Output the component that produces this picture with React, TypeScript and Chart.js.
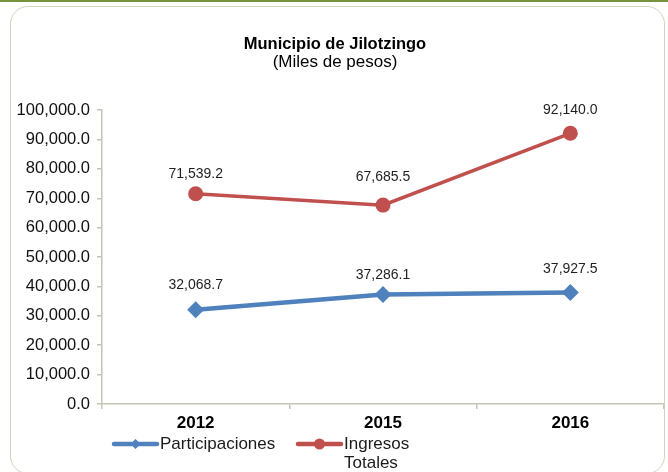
import React, { useEffect, useRef } from "react";
import { Chart, registerables } from "chart.js";

Chart.register(...registerables);

const categories = ["2012", "2015", "2016"];
const participaciones = [32068.7, 37286.1, 37927.5];
const ingresosTotales = [71539.2, 67685.5, 92140.0];
const seriesNames = ["Participaciones", "Ingresos Totales"];
const yMin = 0;
const yMax = 100000;
const yStep = 10000;
const titleText = "Municipio de Jilotzingo";
const subtitleText = "(Miles de pesos)";

const FONT = '"Liberation Sans", Arial, Helvetica, sans-serif';
const BLUE = "#4f81bd";
const RED = "#c0504d";
const AXIS = "#c4c5b4";

const fmt = (v: number) =>
  v.toLocaleString("en-US", { minimumFractionDigits: 1, maximumFractionDigits: 1 });

// label offsets above points (style only)
const labelOffsets = [
  [25, 19, 23],
  [20, 28, 23],
];

const dataLabelPlugin = {
  id: "dataLabels",
  afterDatasetsDraw(chart: any) {
    const ctx = chart.ctx;
    ctx.save();
    ctx.font = `14px ${FONT}`;
    ctx.fillStyle = "#1f1f1f";
    ctx.textAlign = "center";
    ctx.textBaseline = "middle";
    chart.data.datasets.forEach((ds: any, di: number) => {
      const meta = chart.getDatasetMeta(di);
      meta.data.forEach((pt: any, i: number) => {
        const off = labelOffsets[di]?.[i] ?? 22;
        ctx.fillText(fmt(ds.data[i]), pt.x, pt.y - off);
      });
    });
    ctx.restore();
  },
};

const legendPlugin = {
  id: "customLegend",
  afterDraw(chart: any) {
    const ctx = chart.ctx;
    const area = chart.chartArea;
    const y = area.bottom + 40;
    const starts = [area.left + 12, area.left + 196];
    ctx.save();
    chart.data.datasets.forEach((ds: any, di: number) => {
      const x0 = starts[di];
      const lineLen = 43;
      ctx.strokeStyle = ds.borderColor;
      ctx.lineWidth = 4.5;
      ctx.lineCap = "round";
      ctx.beginPath();
      ctx.moveTo(x0, y);
      ctx.lineTo(x0 + lineLen, y);
      ctx.stroke();
      ctx.fillStyle = ds.pointBackgroundColor;
      ctx.beginPath();
      if (ds.pointStyle === "circle") {
        ctx.arc(x0 + lineLen / 2, y, 5.5, 0, Math.PI * 2);
      } else {
        const r = 5;
        const cx = x0 + lineLen / 2;
        ctx.moveTo(cx, y - r);
        ctx.lineTo(cx + r, y);
        ctx.lineTo(cx, y + r);
        ctx.lineTo(cx - r, y);
        ctx.closePath();
      }
      ctx.fill();
      ctx.fillStyle = "#1a1a1a";
      ctx.font = `17px ${FONT}`;
      ctx.textAlign = "left";
      ctx.textBaseline = "middle";
      const words = String(ds.label).split(" ");
      const lines = words.length > 1 && di === 1 ? [words[0], words.slice(1).join(" ")] : [ds.label];
      lines.forEach((ln: string, li: number) => {
        ctx.fillText(ln, x0 + lineLen + 3, y + li * 19);
      });
    });
    ctx.restore();
  },
};

export default function App() {
  const ref = useRef<HTMLCanvasElement | null>(null);

  useEffect(() => {
    if (!ref.current) return;
    const chart = new Chart(ref.current, {
      type: "line",
      data: {
        labels: categories,
        datasets: [
          {
            label: seriesNames[0],
            data: participaciones,
            borderColor: BLUE,
            backgroundColor: BLUE,
            pointBackgroundColor: BLUE,
            pointBorderColor: BLUE,
            pointStyle: "rectRot",
            pointRadius: 8.5,
            pointBorderWidth: 0,
            borderWidth: 4.5,
            tension: 0,
          },
          {
            label: seriesNames[1],
            data: ingresosTotales,
            borderColor: RED,
            backgroundColor: RED,
            pointBackgroundColor: RED,
            pointBorderColor: RED,
            pointStyle: "circle",
            pointRadius: 7.5,
            pointBorderWidth: 0,
            borderWidth: 3.5,
            tension: 0,
          },
        ],
      },
      options: {
        responsive: false,
        animation: false,
        layout: { autoPadding: false, padding: { left: 6, right: 4, top: 0, bottom: 0 } },
        plugins: {
          legend: { display: false },
          tooltip: { enabled: false },
          title: {
            display: true,
            text: titleText,
            color: "#000",
            font: { family: FONT, size: 16.5, weight: "bold", lineHeight: 1.05 },
            padding: { top: 36, bottom: 0 },
          },
          subtitle: {
            display: true,
            text: subtitleText,
            color: "#000",
            font: { family: FONT, size: 17, weight: "normal", lineHeight: 1.05 },
            padding: { top: 0, bottom: 39 },
          },
        },
        scales: {
          x: {
            type: "category",
            offset: true,
            border: { display: true, color: AXIS, width: 1.5 },
            grid: {
              display: true,
              offset: true,
              drawOnChartArea: false,
              drawTicks: true,
              tickLength: 5,
              color: AXIS,
              lineWidth: 1.5,
            },
            ticks: {
              color: "#000",
              font: { family: FONT, size: 17, weight: "bold" },
              padding: 4,
              maxRotation: 0,
            },
            afterFit(scale: any) {
              scale.height = 68;
            },
          },
          y: {
            min: yMin,
            max: yMax,
            border: { display: true, color: AXIS, width: 1.5 },
            grid: {
              display: true,
              drawOnChartArea: false,
              drawTicks: true,
              tickLength: 5,
              color: AXIS,
              lineWidth: 1.5,
            },
            ticks: {
              stepSize: yStep,
              color: "#111",
              font: { family: FONT, size: 16.5 },
              padding: 7,
              callback: (v: any) => fmt(Number(v)),
            },
            afterFit(scale: any) {
              scale.width = 96;
            },
          },
        },
      },
      plugins: [dataLabelPlugin, legendPlugin],
    } as any);
    return () => chart.destroy();
  }, []);

  return (
    <div
      style={{
        position: "absolute",
        left: 0,
        top: 0,
        width: 668,
        height: 472,
        background: "#fff",
        overflow: "hidden",
      }}
    >
      <div
        style={{
          position: "absolute",
          left: 0,
          top: 0,
          width: 668,
          height: 2,
          background: "#77933c",
        }}
      />
      <div
        style={{
          position: "absolute",
          left: 10,
          top: 6,
          width: 655,
          height: 468,
          border: "1.5px solid #d2d3c3",
          borderRadius: 18,
          boxSizing: "border-box",
        }}
      />
      <canvas
        ref={ref}
        width={668}
        height={472}
        style={{ position: "absolute", left: 0, top: 0, width: 668, height: 472 }}
      />
    </div>
  );
}
